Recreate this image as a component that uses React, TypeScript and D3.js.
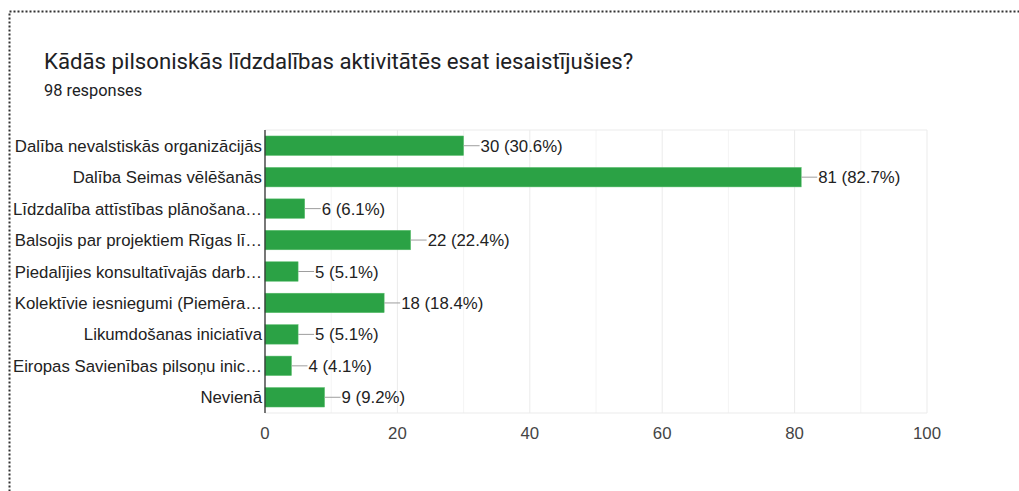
import React from "react";
import * as d3 from "d3";

const title = "Kādās pilsoniskās līdzdalības aktivitātēs esat iesaistījušies?";
const subtitle = "98 responses";
const categories = [
  "Dalība nevalstiskās organizācijās",
  "Dalība Seimas vēlēšanās",
  "Līdzdalība attīstības plānošana…",
  "Balsojis par projektiem Rīgas lī…",
  "Piedalījies konsultatīvajās darb…",
  "Kolektīvie iesniegumi (Piemēra…",
  "Likumdošanas iniciatīva",
  "Eiropas Savienības pilsoņu inic…",
  "Nevienā",
];
const counts = [30, 81, 6, 22, 5, 18, 5, 4, 9];
const percents = ["30.6%", "82.7%", "6.1%", "22.4%", "5.1%", "18.4%", "5.1%", "4.1%", "9.2%"];
const majorTicks = [0, 20, 40, 60, 80, 100];
const minorTicks = [10, 30, 50, 70, 90];

export default function App() {
  const W = 1019, H = 491;
  const left = 265, right = 927, top = 130, bottom = 413;
  const x = d3.scaleLinear().domain([0, 100]).range([left, right]);
  const y = d3.scaleBand<string>().domain(categories).range([top, bottom]).paddingInner(0.38).paddingOuter(0.19);
  const labelFont = "Arial, 'Liberation Sans', sans-serif";
  const fs = 16.8;
  return (
    <svg width={W} height={H} style={{ position: "absolute", left: 0, top: 0, background: "#fff" }}>
      <rect x={9.5} y={11.5} width={W + 20} height={H + 20} fill="none" stroke="#333" strokeWidth={2} strokeDasharray="2 2" />
      <text x={44} y={69} fontFamily="Roboto, sans-serif" fontSize={22.2} fill="#202124">{title}</text>
      <text x={44} y={96} fontFamily="Roboto, sans-serif" fontSize={16.4} fill="#202124">{subtitle}</text>
      {minorTicks.map((t) => (
        <line key={"m" + t} x1={x(t)} x2={x(t)} y1={top} y2={bottom} stroke="#f4f4f4" strokeWidth={1} />
      ))}
      {majorTicks.map((t) => (
        <line key={"M" + t} x1={x(t)} x2={x(t)} y1={top} y2={bottom} stroke="#ebebeb" strokeWidth={1} />
      ))}
      <line x1={left} x2={right} y1={top} y2={top} stroke="#ebebeb" />
      <line x1={left} x2={right} y1={bottom} y2={bottom} stroke="#ebebeb" />
      {categories.map((c, i) => {
        const yy = y(c)!;
        const bw = y.bandwidth();
        const x1 = x(counts[i]);
        return (
          <g key={c}>
            <rect x={left} y={yy} width={x1 - left} height={bw} fill="#2ba245" stroke="#5cbf6f" strokeWidth={0.5} />
            <line x1={x1} x2={x1 + 16} y1={yy + bw / 2} y2={yy + bw / 2} stroke="#9e9e9e" />
            <text x={x1 + 17} y={yy + bw / 2} dy="0.36em" fontFamily={labelFont} fontSize={fs} fill="#222">
              {`${counts[i]} (${percents[i]})`}
            </text>
            <text x={left - 3} y={yy + bw / 2} dy="0.36em" textAnchor="end" fontFamily={labelFont} fontSize={fs} fill="#222">
              {c}
            </text>
          </g>
        );
      })}
      <line x1={left} x2={left} y1={top} y2={bottom} stroke="#333" strokeWidth={1.3} />
      {majorTicks.map((t) => (
        <text key={"t" + t} x={x(t)} y={439} textAnchor="middle" fontFamily={labelFont} fontSize={fs} fill="#444">{t}</text>
      ))}
    </svg>
  );
}
